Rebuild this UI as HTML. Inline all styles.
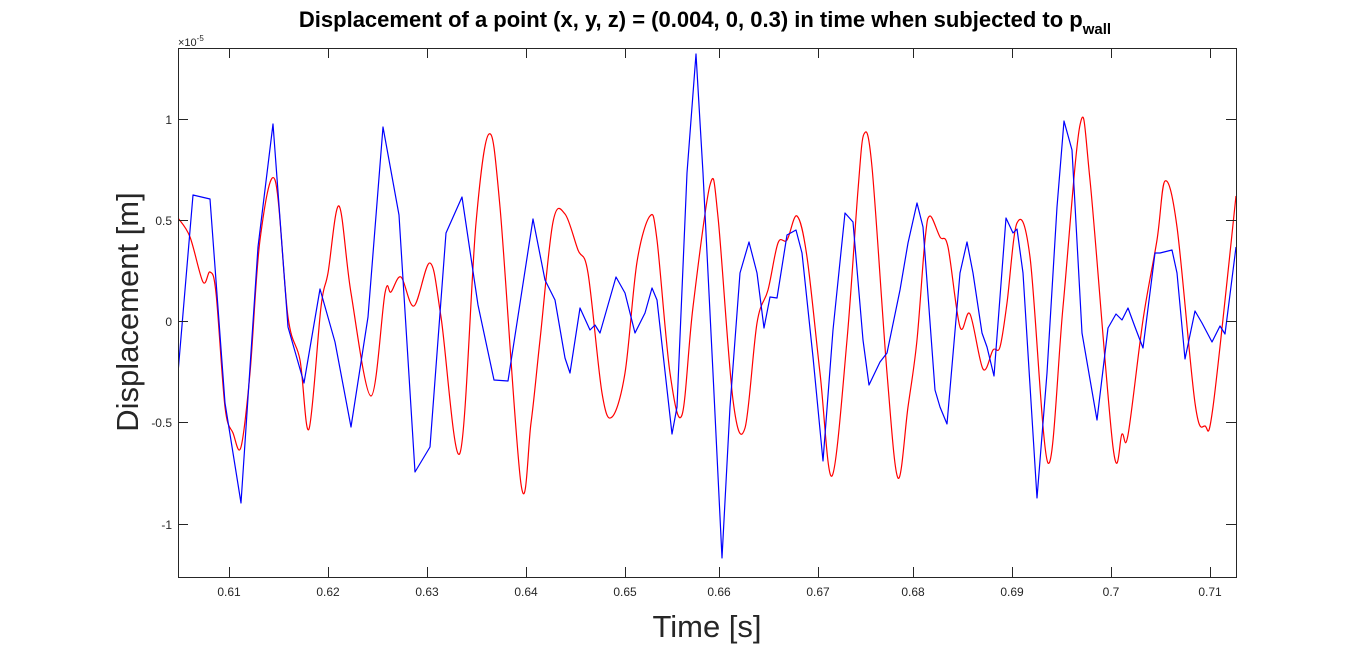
<!DOCTYPE html>
<html><head><meta charset="utf-8"><style>
html,body{margin:0;padding:0;background:#fff;}
svg{display:block;font-family:"Liberation Sans",Arial,sans-serif;}
</style></head><body>
<svg width="1366" height="651" viewBox="0 0 1366 651" xmlns="http://www.w3.org/2000/svg">
<rect width="1366" height="651" fill="#fff"/>
<defs><clipPath id="c"><rect x="178" y="48" width="1058" height="529"/></clipPath></defs>
<text x="705" y="27" text-anchor="middle" font-size="22" font-weight="bold" fill="#000">Displacement of a point (x, y, z) = (0.004, 0, 0.3) in time when subjected to p<tspan font-size="15" dy="7">wall</tspan></text>
<g clip-path="url(#c)" fill="none" stroke-width="1.2" stroke-linejoin="round">
<polyline id="red" stroke="#ff0000" points="178,218 190,237 203,282 210,272 216,293 225,407 233,433 241,447 250,373 260,240 275,180 288,317 300,360 309,429 321,307 328,273 339,206 351,293 371,396 385,293 391,292 401,277 414,306 430,263 441,317 460,453 476,223 489,134 500,207 521,484 531,423 540,340 553,222 565,214 578,250 588,273 602,393 612,417 625,373 637,262 650,216 657,240 670,373 682,415 693,307 710,185 718,217 733,400 745,428 757,323 768,290 778,243 787,240 797,216 807,257 820,373 832,476 847,340 858,190 864,134 872,167 887,373 898,478 908,407 917,340 925,240 930,216 940,237 948,247 960,327 970,314 983,369 993,350 1000,347 1007,303 1017,223 1030,257 1048,463 1063,307 1080,125 1090,180 1113,447 1122,434 1128,435 1143,320 1157,240 1165,181 1177,227 1195,403 1205,426 1213,407 1236,196"/>
<polyline id="blue" stroke="#0000ff" points="178,373 193,195 210,199 225,403 241,503 258,247 273,124 288,327 304,383 320,289 335,342 351,427 368,317 383,127 399,215 415,472 430,447 446,233 462,197 478,305 494,380 508,381 533,219 545,280 555,300 565,358 570,373 580,308 590,330 595,325 600,333 616,277 625,293 635,333 645,313 652,288 657,300 672,434 677,407 687,173 696,54 703,173 713,373 722,558 730,407 740,273 749,242 757,273 764,328 770,297 777,298 787,235 796,230 802,253 813,357 823,461 833,330 845,213 853,222 863,340 869,385 880,362 887,353 900,290 908,243 917,203 923,227 935,390 940,407 947,424 960,273 967,242 973,273 982,333 987,347 994,376 1006,218 1013,233 1017,229 1023,273 1037,498 1047,373 1057,207 1064,121 1072,150 1082,333 1097,420 1108,328 1116,314 1122,320 1128,308 1135,327 1143,348 1155,253 1160,253 1172,250 1177,273 1185,359 1195,311 1202,323 1212,342 1220,326 1225,334 1236,247"/>
</g>
<g stroke="#262626" stroke-width="1" fill="none">
<rect x="178.5" y="48.5" width="1058" height="529"/>
<path d="M229.5,577v-10M229.5,48v10M328.5,577v-10M328.5,48v10M427.5,577v-10M427.5,48v10M526.5,577v-10M526.5,48v10M625.5,577v-10M625.5,48v10M719.5,577v-10M719.5,48v10M818.5,577v-10M818.5,48v10M913.5,577v-10M913.5,48v10M1012.5,577v-10M1012.5,48v10M1111.5,577v-10M1111.5,48v10M1210.5,577v-10M1210.5,48v10"/>
<path d="M178,119.5h10M1236,119.5h-10M178,220.5h10M1236,220.5h-10M178,321.5h10M1236,321.5h-10M178,422.5h10M1236,422.5h-10M178,524.5h10M1236,524.5h-10"/>
</g>
<g font-size="12" fill="#262626" text-anchor="middle">
<text x="229" y="596">0.61</text><text x="328" y="596">0.62</text><text x="427" y="596">0.63</text><text x="526" y="596">0.64</text><text x="625" y="596">0.65</text><text x="719" y="596">0.66</text><text x="818" y="596">0.67</text><text x="913" y="596">0.68</text><text x="1012" y="596">0.69</text><text x="1111" y="596">0.7</text><text x="1210" y="596">0.71</text>
</g>
<g font-size="12" fill="#262626" text-anchor="end">
<text x="172" y="124">1</text><text x="172" y="225">0.5</text><text x="172" y="326">0</text><text x="172" y="427">-0.5</text><text x="172" y="529">-1</text>
</g>
<text x="178" y="46" font-size="11" fill="#262626">×10<tspan font-size="8" dy="-5">-5</tspan></text>
<text x="707" y="637" text-anchor="middle" font-size="31" fill="#262626">Time [s]</text>
<text transform="translate(138,312) rotate(-90)" text-anchor="middle" font-size="31" fill="#262626">Displacement [m]</text>
</svg>
<script>
(function(){
  var ns="http://www.w3.org/2000/svg";
  function smooth(id){
    var pl=document.getElementById(id); if(!pl) return;
    var pts=pl.getAttribute("points").trim().split(/\s+/).map(function(s){var a=s.split(",");return [+a[0],+a[1]];});
    var d="M"+pts[0][0]+","+pts[0][1];
    for(var i=0;i<pts.length-1;i++){
      var p0=pts[i>0?i-1:i],p1=pts[i],p2=pts[i+1],p3=pts[i+2<pts.length?i+2:i+1];
      var c1x=p1[0]+(p2[0]-p0[0])/6,c1y=p1[1]+(p2[1]-p0[1])/6;
      var c2x=p2[0]-(p3[0]-p1[0])/6,c2y=p2[1]-(p3[1]-p1[1])/6;
      d+=" C"+c1x.toFixed(1)+","+c1y.toFixed(1)+" "+c2x.toFixed(1)+","+c2y.toFixed(1)+" "+p2[0]+","+p2[1];
    }
    var p=document.createElementNS(ns,"path");
    p.setAttribute("d",d);p.setAttribute("stroke",pl.getAttribute("stroke"));
    pl.parentNode.replaceChild(p,pl);
  }
  smooth("red");
})();
</script>
</body></html>
